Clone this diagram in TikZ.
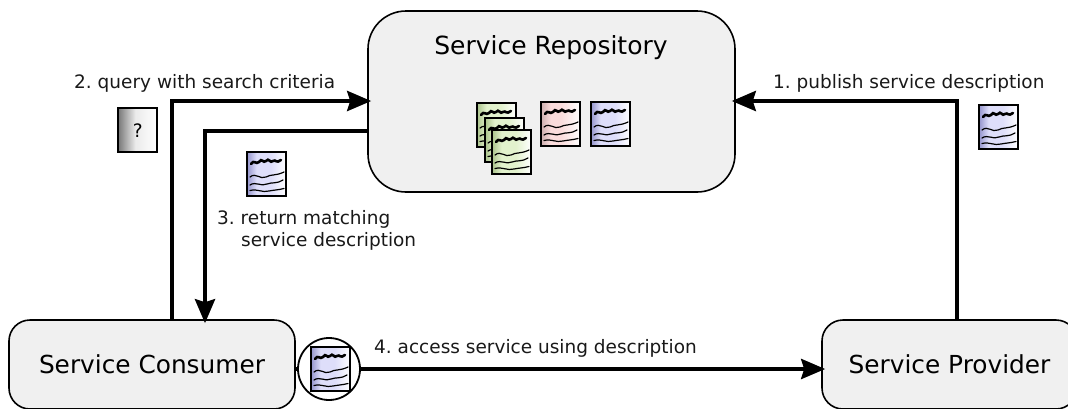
\documentclass[tikz,border=0pt]{standalone}
\usepackage{fontspec}
\setmainfont{DejaVu Sans}
\usetikzlibrary{arrows.meta}
\definecolor{gE}{RGB}{170,195,140}\definecolor{gT}{RGB}{226,242,205}
\definecolor{rE}{RGB}{205,175,175}\definecolor{rT}{RGB}{250,220,220}
\definecolor{bE}{RGB}{150,150,205}\definecolor{bT}{RGB}{222,222,250}
\definecolor{qE}{RGB}{120,120,120}\definecolor{qT}{RGB}{235,235,235}
\pgfdeclarehorizontalshading{docg}{100bp}{color(0bp)=(gE); color(25bp)=(gE); color(37bp)=(gT); color(55bp)=(gT); color(75bp)=(white); color(100bp)=(white)}
\pgfdeclarehorizontalshading{docr}{100bp}{color(0bp)=(rE); color(25bp)=(rE); color(37bp)=(rT); color(50bp)=(rT); color(75bp)=(white); color(100bp)=(white)}
\pgfdeclarehorizontalshading{docb}{100bp}{color(0bp)=(bE); color(25bp)=(bE); color(37bp)=(bT); color(55bp)=(bT); color(75bp)=(white); color(100bp)=(white)}
\pgfdeclarehorizontalshading{docq}{100bp}{color(0bp)=(qE); color(25bp)=(qE); color(47bp)=(qT); color(75bp)=(white); color(100bp)=(white)}
\tikzset{
 box/.style={draw=black,line width=1.6pt,fill=black!6,rounded corners=#1,inner sep=0pt,font=\fontsize{24.8}{28}\selectfont},
 lbl/.style={font=\fontsize{18.5}{22}\selectfont,inner sep=0pt,align=left,anchor=base west,text=black!90},
 tipped/.style={-{Stealth[length=24pt,width=20pt,inset=3pt]}},
 flow/.style={line width=4pt,tipped},
 plain/.style={line width=4pt},
 docbox/.style={draw=black,line width=2.4pt,minimum width=#1,minimum height=44pt,inner sep=0pt,anchor=north west},
 scrib/.style={line width=1.2pt,line cap=round},
}
\newcommand{\docsq}[4]{% name, x, y, shading
 \node[docbox=39pt,shade,shading=#4] (#1) at (#2,#3) {};
 \begin{scope}[shift={(#2,#3)}]
  \draw[line width=2.6pt,line cap=round] (5,13) .. controls (8,8) and (10,14) .. (13,11) .. controls (16,6) and (17,13) .. (20,10) .. controls (23,6) and (24,13) .. (27,10) .. controls (30,8) and (30,13) .. (35,9);
  \draw[scrib] (4,26) .. controls (10,21) and (14,29) .. (20,26) .. controls (25,23) and (30,25) .. (38,21);
  \draw[scrib] (4,34) .. controls (10,30) and (15,36) .. (21,33) .. controls (26,31) and (31,33) .. (37,29);
  \draw[scrib] (4,39.5) .. controls (12,37.5) and (16,42) .. (23,40) .. controls (28,39) and (32,39) .. (38,37.5);
 \end{scope}}
\begin{document}
\begin{tikzpicture}[x=1pt,y=-1pt]
\frenchspacing
\useasboundingbox (0,0) rectangle (1068,408);
\clip (0,0) rectangle (1068,408);
\node[box=38pt,minimum width=367pt,minimum height=181pt] (repo) at (551.5,101.5) {};
\node[font=\fontsize{25}{28}\selectfont] (repot) at (551,48) {Service Repository};
\node[box=21pt,minimum width=286pt,minimum height=89pt] (cons) at (152,364.5) {Service Consumer};
\node[box=21pt,minimum width=255pt,minimum height=89pt] (prov) at (949.5,364.5) {Service Provider};
\coordinate (q) at (172,101);
\coordinate (r) at (205,131);
\coordinate (p) at (957,101);
\draw[flow] (cons.north -| q) -- (q) -- ([xshift=4pt]repo.west |- q);
\draw[flow] (repo.west |- r) -- (r) -- ([yshift=-4pt]cons.north -| r);
\draw[flow] (prov.north -| p) -- (p) -- ([xshift=-4pt]repo.east |- p);
\docsq{d1}{476}{102}{docg}
\docsq{d2}{484}{117}{docg}
\docsq{d3}{491}{129}{docg}
\docsq{d4}{540}{101}{docr}
\docsq{d5}{590}{101}{docb}
\docsq{d6}{246}{151}{docb}
\docsq{d7}{978}{104}{docb}
\node[docbox=39pt,shade,shading=docq,font=\fontsize{18.5}{20}\selectfont] (qm) at (117,107) {?};
\node[circle,draw=black,line width=1.8pt,minimum size=62pt,inner sep=0pt,fill=white] (lens) at (329,369) {};
\docsq{d8}{310}{346}{docb}
\draw[plain] (cons.east |- lens) -- (lens.west);
\draw[flow] (lens.east) -- ([xshift=4pt]prov.west |- lens);
\node[lbl] (l1) at (773,88) {1. publish service description};
\node[lbl] (l2) at (74,88) {2. query with search criteria};
\node[lbl] (l3) at (217,246) {3. return matching\\\hspace{24pt}service description};
\node[lbl] (l4) at (374,353) {4. access service using description};
\end{tikzpicture}
\end{document}
